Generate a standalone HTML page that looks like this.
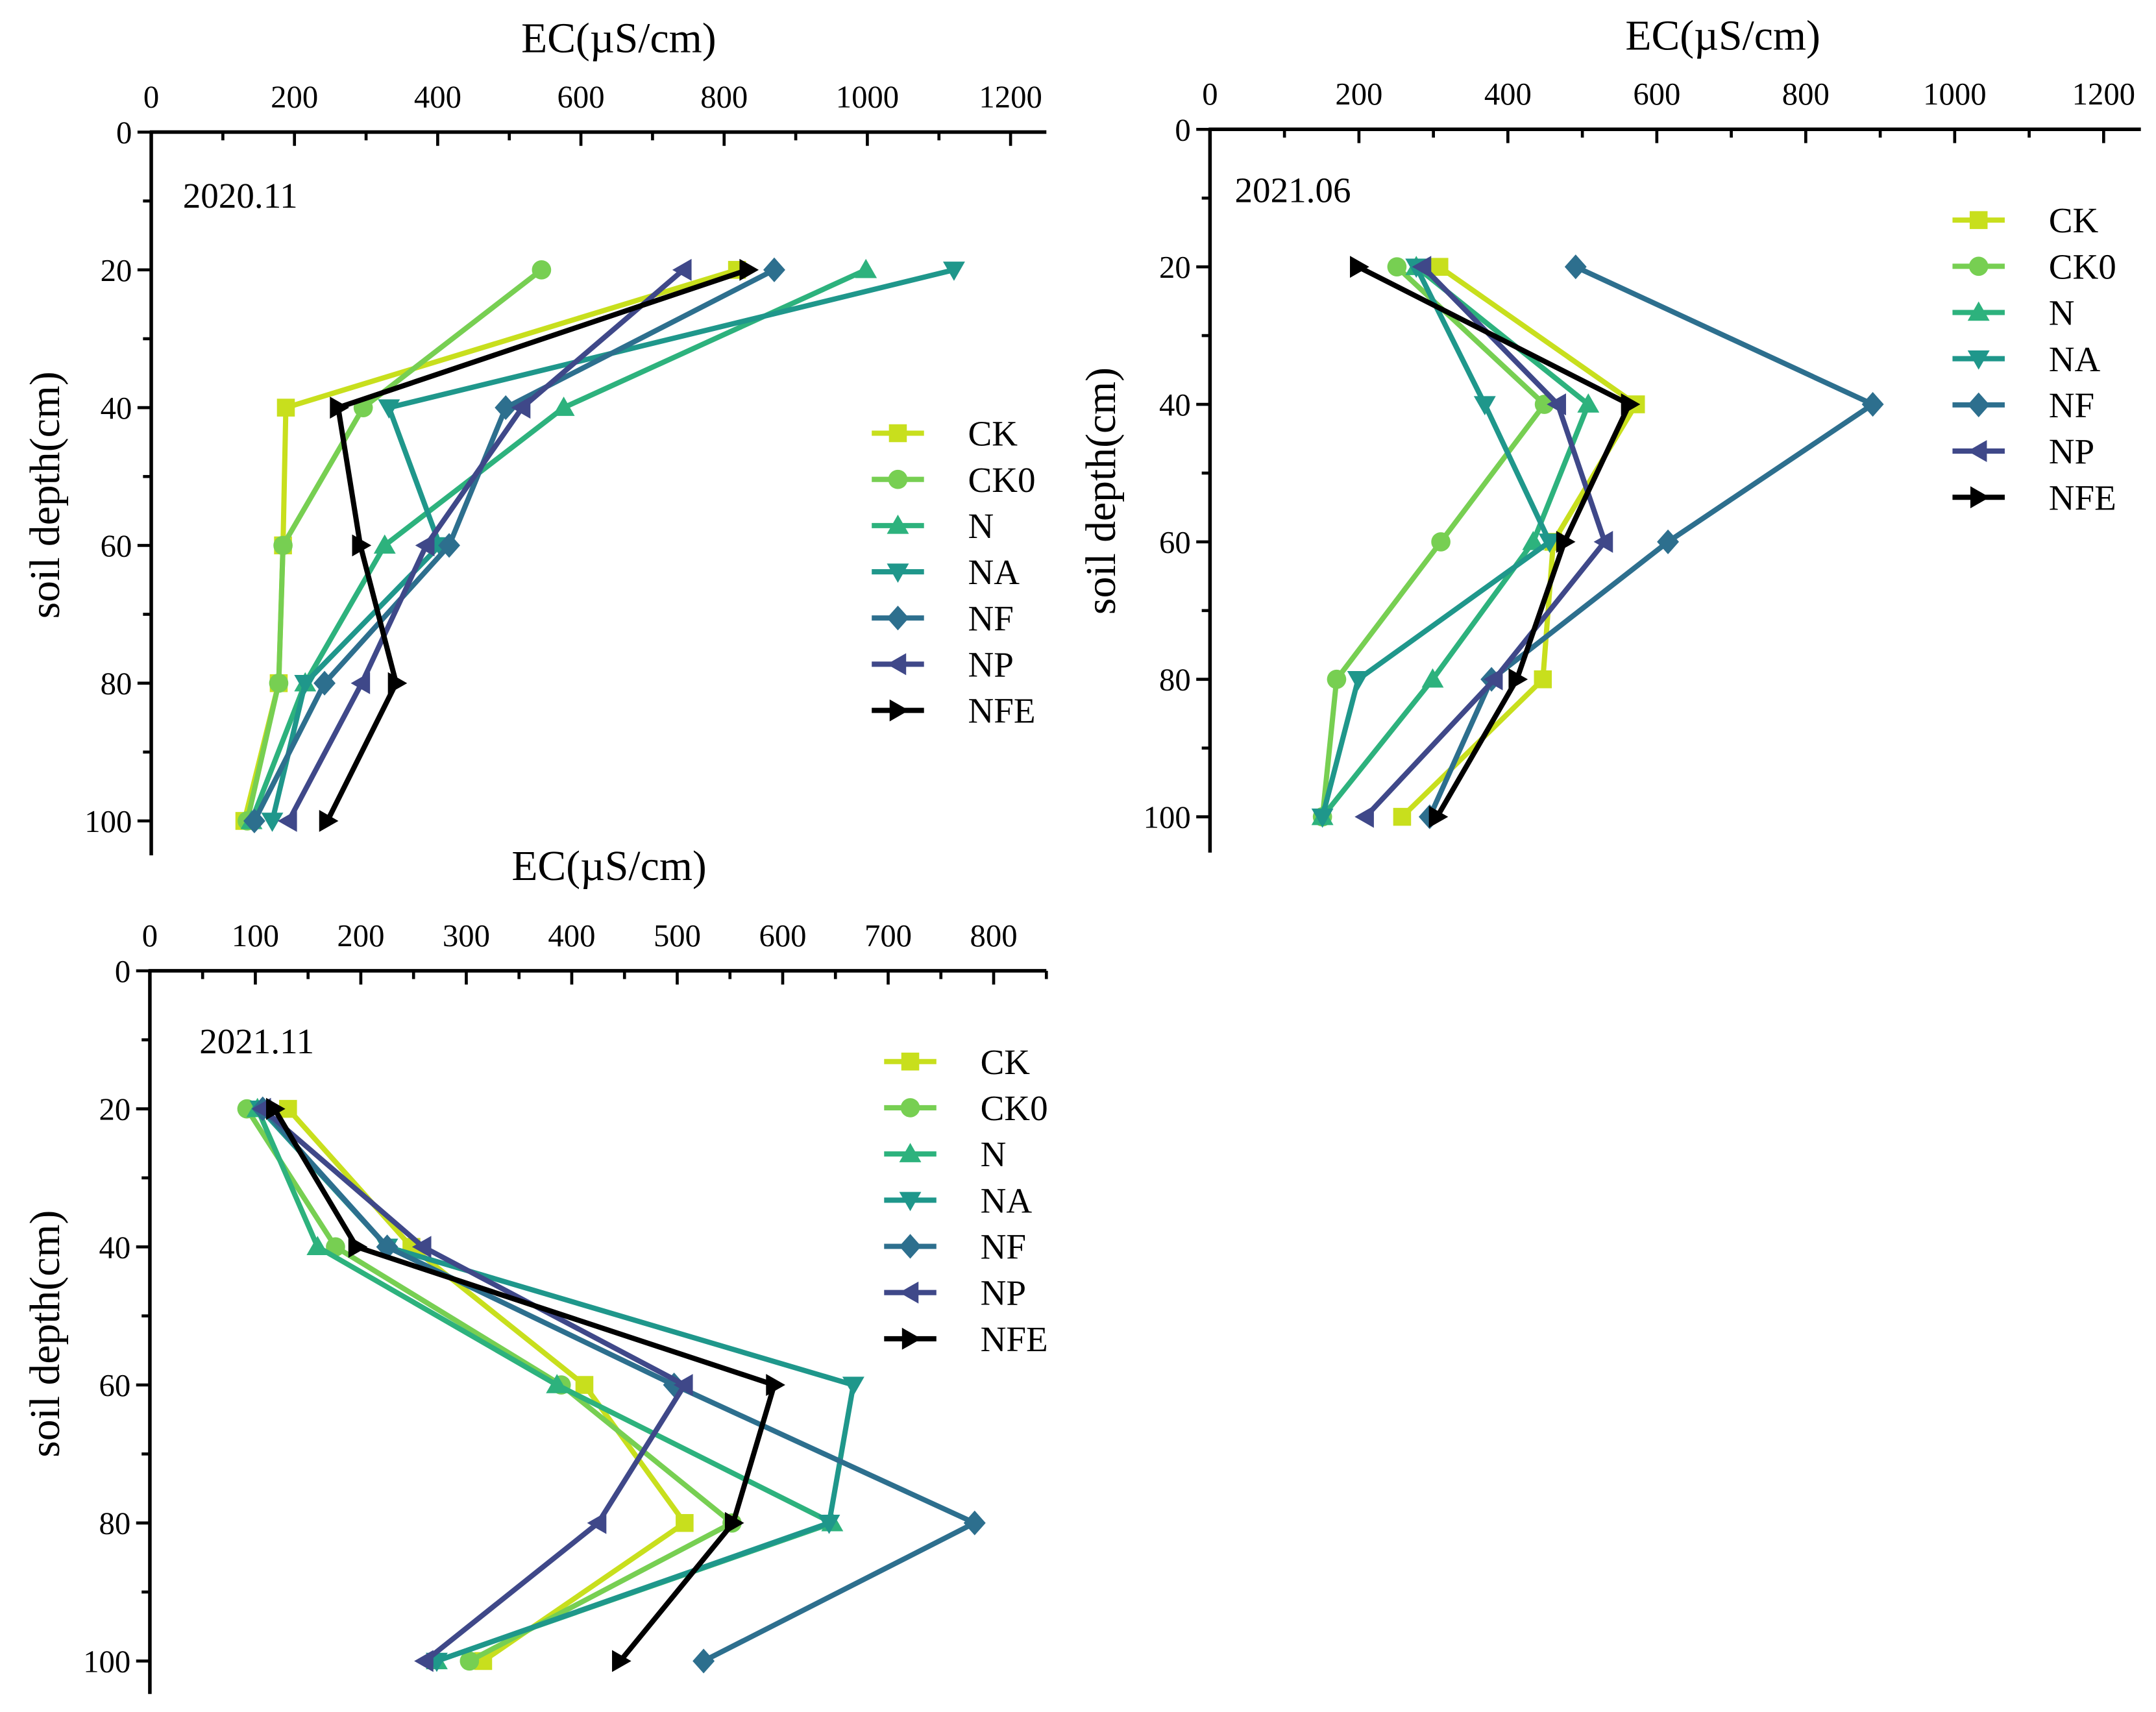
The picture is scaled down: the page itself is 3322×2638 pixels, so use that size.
<!DOCTYPE html>
<html><head><meta charset="utf-8"><style>
html,body{margin:0;padding:0;background:#fff}
svg{display:block}
text{font-family:"Liberation Serif",serif;fill:#000}
</style></head><body>
<svg id="chart" width="3322" height="2638" viewBox="0 0 1568 1245" xmlns="http://www.w3.org/2000/svg"></svg>
<script>
const seriesNames = ["CK","CK0","N","NA","NF","NP","NFE"];
const seriesColors = ["#c8df1d","#77cf52","#2db27d","#1f978b","#2d6f8e","#3f4889","#000000"];
const depths = [20,40,60,80,100];
const p1Values = [
 [818,188,184,178,130],
 [545,296,184,178,134],
 [998,576,326,215,140],
 [1121,332,403,215,169],
 [870,495,416,242,144],
 [743,518,384,294,192],
 [833,261,292,342,246]];
const p2Values = [
 [308,572,461,447,258],
 [251,449,310,170,151],
 [277,508,434,299,151],
 [277,369,456,199,151],
 [491,890,615,378,295],
 [286,467,530,382,209],
 [199,563,476,412,305]];
const p3Values = [
 [131,248,412,507,316],
 [92,176,390,552,303],
 [102,159,386,647,272],
 [105,225,667,644,272],
 [107,225,497,782,525],
 [107,259,507,425,261],
 [118,196,592,553,446]];
const p1Ticks = [0,200,400,600,800,1000,1200];
const p2Ticks = [0,200,400,600,800,1000,1200];
const p3Ticks = [0,100,200,300,400,500,600,700,800];
const yTicks = [0,20,40,60,80,100];

const NS="http://www.w3.org/2000/svg";
const svg=document.getElementById('chart');
function mk(tag,attrs,parent){const e=document.createElementNS(NS,tag);for(const k in attrs)e.setAttribute(k,attrs[k]);(parent||svg).appendChild(e);return e;}

const panels=[
 {name:"panel-2020-11",vals:p1Values,ticks:p1Ticks,minor:100,xmax:1250,x0:110,x1:761,y0:96,y1:622,ytop:96,ybot:597,label:"2020.11",lx:133,ly:151,title:[450,38],ytitle:[43,360],leg:[634,704,315]},
 {name:"panel-2021-06",vals:p2Values,ticks:p2Ticks,minor:100,xmax:1250,x0:880,x1:1557,y0:94,y1:620,ytop:94,ybot:594,label:"2021.06",lx:898,ly:147,title:[1253,36],ytitle:[811,357],leg:[1420,1490,160]},
 {name:"panel-2021-11",vals:p3Values,ticks:p3Ticks,minor:50,xmax:850,x0:109,x1:761,y0:706,y1:1232,ytop:706,ybot:1208,label:"2021.11",lx:145,ly:766,title:[443,640],ytitle:[43,970],leg:[643,713,772]}
];

function marker(g,i,x,y,c){
 const s=7;
 let e;
 if(i===0)e=mk('rect',{x:x-s+0.5,y:y-s+0.5,width:2*s-1,height:2*s-1,fill:c},g);
 else if(i===1)e=mk('circle',{cx:x,cy:y,r:s,fill:c},g);
 else if(i===2)e=mk('polygon',{points:`${x},${y-s-1} ${x+s+1},${y+s-1} ${x-s-1},${y+s-1}`,fill:c},g);
 else if(i===3)e=mk('polygon',{points:`${x},${y+s+1} ${x+s+1},${y-s+1} ${x-s-1},${y-s+1}`,fill:c},g);
 else if(i===4)e=mk('polygon',{points:`${x},${y-s-2} ${x+s+1},${y} ${x},${y+s+2} ${x-s-1},${y}`,fill:c},g);
 else if(i===5)e=mk('polygon',{points:`${x-s-1},${y} ${x+s-1},${y-s-1} ${x+s-1},${y+s+1}`,fill:c},g);
 else e=mk('polygon',{points:`${x+s+1},${y} ${x-s+1},${y-s-1} ${x-s+1},${y+s+1}`,fill:c},g);
 
 
}

panels.forEach(p=>{
 const g=mk('g',{});
 
 
 const xs=v=>p.x0+(v/p.xmax)*(p.x1-p.x0);
 const ys=d=>p.ytop+(d/100)*(p.ybot-p.ytop);
 const ax=mk('g',{},g);
 
 
 mk('line',{x1:p.x0-1,y1:p.y0,x2:p.x1,y2:p.y0,stroke:'#000','stroke-width':2.6},ax);
 for(let v=0;v<=p.xmax+0.1;v+=p.minor){
   const major=p.ticks.includes(v);
   mk('line',{x1:xs(v),y1:p.y0,x2:xs(v),y2:p.y0+(major?10:6),stroke:'#000','stroke-width':2.2},ax);
 }
 p.ticks.forEach(t=>{const e=mk('text',{x:xs(t),y:p.y0-18,'font-size':23,'text-anchor':'middle'},ax);e.textContent=t;
   });
 const tt=mk('text',{x:p.title[0],y:p.title[1],'font-size':31,'text-anchor':'middle'},g);tt.textContent='EC(\u00b5S/cm)';
 
 const ay=mk('g',{},g);
 
 
 mk('line',{x1:p.x0,y1:p.y0-1,x2:p.x0,y2:p.y1,stroke:'#000','stroke-width':2.6},ay);
 for(let d=0;d<=100;d+=10){
   const major=d%20===0;
   mk('line',{x1:p.x0,y1:ys(d),x2:p.x0-(major?10:6),y2:ys(d),stroke:'#000','stroke-width':2.2},ay);
 }
 yTicks.forEach(t=>{const e=mk('text',{x:p.x0-14,y:ys(t)+8,'font-size':23,'text-anchor':'end'},ay);e.textContent=t;
   });
 const yt=mk('text',{x:p.ytitle[0],y:p.ytitle[1],'font-size':31,'text-anchor':'middle',transform:`rotate(-90 ${p.ytitle[0]} ${p.ytitle[1]})`},g);
 yt.textContent='soil depth(cm)';
 
 const lb=mk('text',{x:p.lx,y:p.ly,'font-size':26},g);lb.textContent=p.label;
 
 p.vals.forEach((vals,i)=>{
   const sg=mk('g',{},g);
   
   
   const pts=vals.map((v,k)=>xs(v)+','+ys(depths[k])).join(' ');
   mk('polyline',{points:pts,fill:'none',stroke:seriesColors[i],'stroke-width':3.8,'stroke-linejoin':'miter'},sg);
   vals.forEach((v,k)=>marker(sg,i,xs(v),ys(depths[k]),seriesColors[i]));
 });
 const lg=mk('g',{},g);
 
 
 seriesNames.forEach((n,i)=>{
   const y=p.leg[2]+i*33.6;
   const e=mk('g',{},lg);
   
   
   mk('line',{x1:p.leg[0],y1:y,x2:p.leg[0]+38,y2:y,stroke:seriesColors[i],'stroke-width':3.8},e);
   marker(e,i,p.leg[0]+19,y,seriesColors[i]);
   const t=mk('text',{x:p.leg[1],y:y+9,'font-size':26},e);t.textContent=n;
 });
});
</script>
</body></html>
